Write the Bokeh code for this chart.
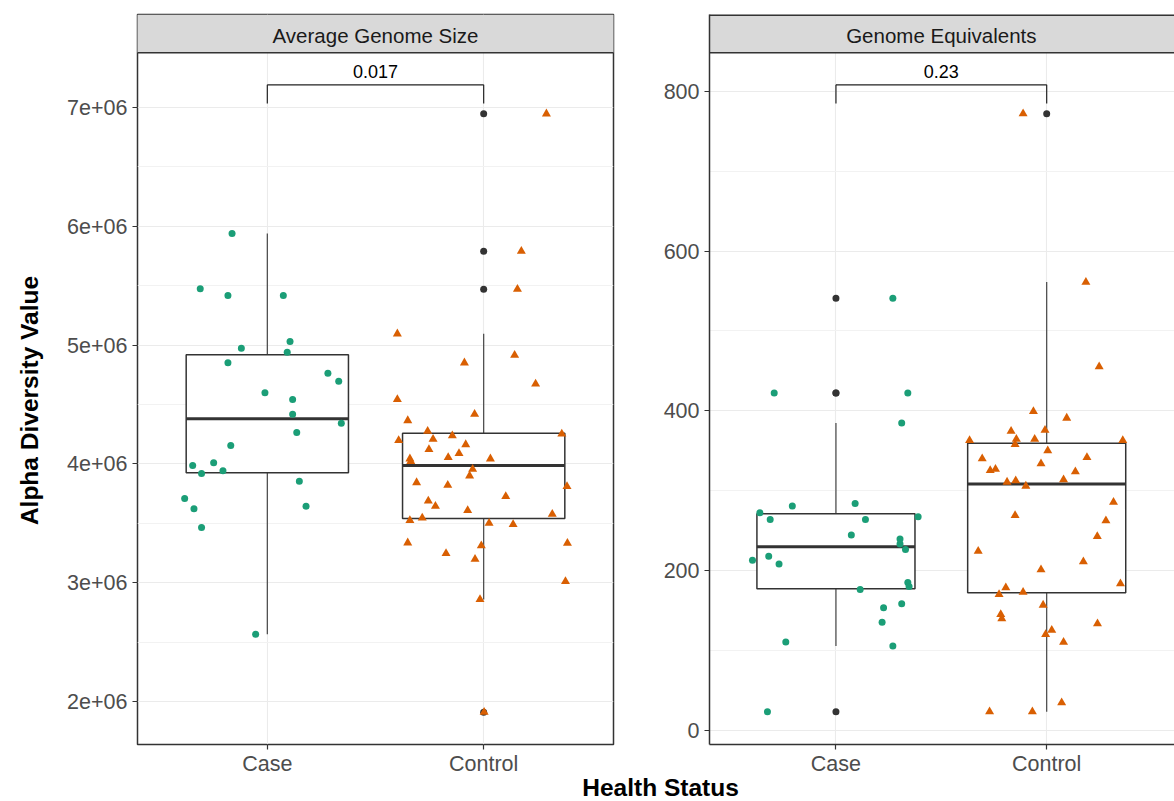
import numpy as np
from bokeh.plotting import figure
from bokeh.layouts import column, row
from bokeh.models import FixedTicker, Label, Range1d
from bokeh.embed import file_html
from bokeh.resources import INLINE

# ---------------------------------------------------------------- data
categories = ["Case", "Control"]
panel_titles = ["Average Genome Size", "Genome Equivalents"]
p_values = ["0.017", "0.23"]

# Average genome size (bp) per sample; *_jitter = horizontal jitter in category units
ags_case = [5.939e6, 5.474e6, 5.418e6, 5.418e6, 5.030e6, 4.974e6, 4.940e6, 4.851e6,
            4.763e6, 4.696e6, 4.598e6, 4.542e6, 4.418e6, 4.343e6, 4.264e6, 4.155e6,
            3.987e6, 4.009e6, 3.919e6, 3.942e6, 3.854e6, 3.709e6, 3.622e6, 3.644e6,
            3.465e6, 2.567e6]
ags_case_jitter = [-0.163, -0.310, -0.182, 0.074, 0.105, -0.120, 0.092, -0.182,
                   0.280, 0.330, -0.011, 0.117, 0.117, 0.342, 0.136, -0.169,
                   -0.345, -0.248, -0.304, -0.205, 0.148, -0.382, -0.339, 0.179,
                   -0.304, -0.054]
ags_control = [6.947e6, 5.790e6, 5.471e6, 5.095e6, 4.851e6, 4.915e6, 4.674e6, 4.542e6,
               4.418e6, 4.365e6, 4.275e6, 4.237e6, 4.208e6, 4.197e6, 4.253e6, 4.163e6,
               4.121e6, 4.088e6, 4.054e6, 4.043e6, 4.020e6, 4.043e6, 3.955e6, 3.900e6,
               3.843e6, 3.821e6, 3.810e6, 3.726e6, 3.689e6, 3.644e6, 3.608e6, 3.577e6,
               3.524e6, 3.546e6, 3.501e6, 3.490e6, 3.336e6, 3.333e6, 3.311e6, 3.246e6,
               3.198e6, 3.010e6, 2.859e6, 1.910e6]
ags_control_jitter = [0.290, 0.174, 0.156, -0.399, -0.089, 0.143, 0.240, -0.399,
                      -0.042, -0.351, -0.259, -0.145, -0.234, -0.393, 0.361, -0.083,
                      -0.253, -0.114, -0.164, -0.341, -0.337, 0.031, -0.051, -0.065,
                      -0.310, -0.166, 0.385, 0.102, -0.256, -0.223, -0.074, 0.317,
                      -0.341, -0.284, 0.025, 0.136, -0.351, 0.387, -0.011, -0.174,
                      -0.040, 0.378, -0.017, 0.002]

# Genome equivalents per sample
ge_case = [541.0, 422.2, 422.2, 384.6, 280.7, 272.4, 284.1, 264.1, 264.1, 267.5,
           244.4, 239.4, 233.2, 226.5, 212.8, 218.1, 208.2, 185.2, 180.2, 176.4,
           158.6, 153.6, 135.5, 110.5, 105.6, 23.4]
ge_case_jitter = [0.270, -0.293, 0.341, 0.312, -0.207, -0.361, 0.091, -0.312, 0.140, 0.390,
                  0.073, 0.304, 0.304, 0.330, -0.396, -0.319, -0.270, 0.341, 0.347, 0.115,
                  0.312, 0.226, 0.219, -0.238, 0.270, -0.325]
ge_control = [771.8, 561.1, 455.2, 399.2, 390.9, 374.6, 375.8, 363.0, 364.6, 364.6,
              358.0, 363.0, 350.1, 340.0, 341.7, 333.8, 325.4, 327.0, 323.7, 310.8,
              312.6, 313.8, 305.8, 285.7, 269.0, 262.5, 242.8, 224.4, 211.1, 201.1,
              183.6, 178.6, 173.1, 170.2, 156.9, 145.2, 139.8, 133.5, 125.5, 120.1,
              110.5, 34.7, 23.4, 23.4]
ge_control_jitter = [-0.112, 0.186, 0.249, -0.063, 0.095, -0.169, -0.008, -0.366, -0.144, -0.057,
                     -0.150, 0.361, 0.005, -0.306, 0.191, -0.027, -0.268, -0.243, 0.136, -0.188,
                     -0.147, 0.080, -0.099, 0.317, -0.150, 0.281, 0.240, -0.325, 0.174, -0.027,
                     0.350, -0.194, -0.112, -0.226, -0.017, -0.218, -0.213, 0.241, 0.024, -0.005,
                     0.080, 0.071, -0.271, -0.068]

ags_ticks = [2e6, 3e6, 4e6, 5e6, 6e6, 7e6]
ags_tick_labels = ["2e+06", "3e+06", "4e+06", "5e+06", "6e+06", "7e+06"]
ags_minor = [2.5e6, 3.5e6, 4.5e6, 5.5e6, 6.5e6]
ge_ticks = [0, 200, 400, 600, 800]
ge_tick_labels = ["0", "200", "400", "600", "800"]
ge_minor = [100, 300, 500, 700]

# ---------------------------------------------------------------- style
FONT = "Liberation Sans"
CASE_COLOR = "#1B9E77"
CONTROL_COLOR = "#D95F02"
DARK = "#333333"
PAGE_H = 801
FIG_H = 780
FRAME_TOP, FRAME_BOTTOM = 14, 744          # frame rows inside the panel figures
STRIP_BOTTOM_ROW = 52.3
STRIP_TEXT_ROW = 34.5
PVAL_ROW = 70.5
BRACKET_ROW, BRACKET_TIP_ROW = 84.3, 103
YTITLE_W = 50
XTITLE_H, XTITLE_OVERLAP = 40, 19


def box_stats(vals):
    a = np.asarray(vals, dtype=float)
    q1, med, q3 = np.percentile(a, [25, 50, 75])
    iqr = q3 - q1
    lo, hi = q1 - 1.5 * iqr, q3 + 1.5 * iqr
    inside = a[(a >= lo) & (a <= hi)]
    out = a[(a < lo) | (a > hi)]
    return q1, med, q3, inside.min(), inside.max(), out


def make_panel(title, pval, groups, ticks, tick_labels, minor, anchor_val, anchor_row,
               px_per_unit, width, border_left, border_right, x_end, boxed):
    def at_row(r):
        return anchor_val + (anchor_row - r) / px_per_unit

    y0, y1 = at_row(FRAME_BOTTOM), at_row(FRAME_TOP)
    p = figure(width=width, height=FIG_H, output_backend="svg", toolbar_location=None,
               x_range=Range1d(0.4, x_end), y_range=Range1d(y0, y1),
               min_border_left=border_left, min_border_right=border_right,
               min_border_top=FRAME_TOP, min_border_bottom=FIG_H - FRAME_BOTTOM)
    p.background_fill_color = "white"
    p.border_fill_color = "white"

    # axes
    p.xaxis.ticker = FixedTicker(ticks=[1, 2])
    p.xaxis.major_label_overrides = {1: categories[0], 2: categories[1]}
    p.yaxis.ticker = FixedTicker(ticks=ticks, minor_ticks=minor)
    p.yaxis.major_label_overrides = {int(t): lab for t, lab in zip(ticks, tick_labels)}
    for ax in (p.xaxis, p.yaxis):
        ax.major_label_text_font = FONT
        ax.major_label_text_font_size = "21.5px"
        ax.major_label_text_color = "#4d4d4d"
        ax.major_tick_line_color = DARK
        ax.major_tick_line_width = 1.2
        ax.major_tick_out = 5
        ax.major_tick_in = 0
        ax.minor_tick_out = 0
        ax.minor_tick_in = 0
    p.yaxis.major_label_standoff = 5
    p.xaxis.major_label_standoff = 2
    if boxed:
        p.outline_line_color = DARK
        p.outline_line_width = 1.5
        p.xaxis.axis_line_color = None
        p.yaxis.axis_line_color = None
    else:
        # right panel runs off the page edge: only left/bottom/top borders
        p.outline_line_color = None
        p.xaxis.axis_line_color = DARK
        p.yaxis.axis_line_color = DARK
        p.xaxis.axis_line_width = 1.5
        p.yaxis.axis_line_width = 1.5

    # grid
    p.xgrid.grid_line_color = "#ebebeb"
    p.ygrid.grid_line_color = "#ebebeb"
    p.xgrid.grid_line_width = 1.1
    p.ygrid.grid_line_width = 1.1
    p.ygrid.minor_grid_line_color = "#f2f2f2"
    p.ygrid.minor_grid_line_width = 1

    # facet strip
    strip_bottom = at_row(STRIP_BOTTOM_ROW)
    p.quad(left=0, right=3, bottom=strip_bottom, top=y1, fill_color="#d9d9d9", line_color=None)
    p.segment(x0=0, x1=3, y0=strip_bottom, y1=strip_bottom, line_color=DARK, line_width=1.5)
    if not boxed:
        p.segment(x0=0, x1=3, y0=y1, y1=y1, line_color=DARK, line_width=3)
    p.add_layout(Label(x=1.5, y=at_row(STRIP_TEXT_ROW), text=title, text_align="center",
                       text_baseline="middle", text_font=FONT, text_font_size="20.5px",
                       text_color="#1a1a1a"))

    # box plots
    for i, (vals, jit, color, marker, size) in enumerate(groups, start=1):
        q1, med, q3, wlo, whi, out = box_stats(vals)
        p.segment(x0=[i, i], x1=[i, i], y0=[q3, q1], y1=[whi, wlo], line_color="#444444", line_width=1.2)
        p.quad(left=i - 0.375, right=i + 0.375, bottom=q1, top=q3,
               fill_color="white", line_color=DARK, line_width=1.5)
        p.segment(x0=i - 0.375, x1=i + 0.375, y0=med, y1=med, line_color=DARK, line_width=3)
        if len(out):
            p.scatter(x=[i] * len(out), y=list(out), marker="circle", size=7,
                      fill_color=DARK, line_color=None)
    for i, (vals, jit, color, marker, size) in enumerate(groups, start=1):
        p.scatter(x=[i + j for j in jit], y=vals, marker=marker, size=size,
                  fill_color=color, line_color=None)

    # comparison bracket with p-value
    yt, yb = at_row(BRACKET_ROW), at_row(BRACKET_TIP_ROW)
    p.segment(x0=[1, 1, 2], x1=[2, 1, 2], y0=[yt, yt, yt], y1=[yt, yb, yb],
              line_color="#222222", line_width=1.2)
    p.add_layout(Label(x=1.5, y=at_row(PVAL_ROW), text=pval, text_align="center",
                       text_baseline="middle", text_font=FONT, text_font_size="18px",
                       text_color="black"))
    return p


def text_strip(width, height, x, y, text, angle=0.0):
    t = figure(width=width, height=height, output_backend="svg", toolbar_location=None,
               x_axis_type=None, y_axis_type=None, x_range=Range1d(0, 1), y_range=Range1d(0, 1),
               min_border=0, outline_line_color=None)
    t.background_fill_alpha = 0
    t.border_fill_alpha = 0
    t.add_layout(Label(x=x, y=y, x_units="screen", y_units="screen", text=text, angle=angle,
                       text_align="center", text_baseline="middle", text_font=FONT,
                       text_font_size="24.5px", text_font_style="bold", text_color="black"))
    return t


# shared y-axis title, centred on the page height
p0 = text_strip(YTITLE_W, FIG_H, 29, FIG_H - 436, "Alpha Diversity Value", angle=np.pi / 2)

p1 = make_panel(panel_titles[0], p_values[0],
                [(ags_case, ags_case_jitter, CASE_COLOR, "circle", 7),
                 (ags_control, ags_control_jitter, CONTROL_COLOR, "triangle", 9)],
                ags_ticks, ags_tick_labels, ags_minor,
                anchor_val=7e6, anchor_row=107, px_per_unit=118.8 / 1e6,
                width=660 - YTITLE_W, border_left=137 - YTITLE_W, border_right=47,
                x_end=2.6, boxed=True)

p2 = make_panel(panel_titles[1], p_values[1],
                [(ge_case, ge_case_jitter, CASE_COLOR, "circle", 7),
                 (ge_control, ge_control_jitter, CONTROL_COLOR, "triangle", 9)],
                ge_ticks, ge_tick_labels, ge_minor,
                anchor_val=800, anchor_row=90.7, px_per_unit=0.799,
                width=514, border_left=48, border_right=0, x_end=0.4 + 466 / 211.2,
                boxed=False)

# shared x-axis title, tucked under the tick labels
p3 = text_strip(1174, XTITLE_H, 660, PAGE_H - 786.5, "Health Status")
p3.margin = (-XTITLE_OVERLAP, 0, 0, 0)

layout = column(row(p0, p1, p2), p3)
open("out.html", "w").write(file_html(layout, INLINE))
